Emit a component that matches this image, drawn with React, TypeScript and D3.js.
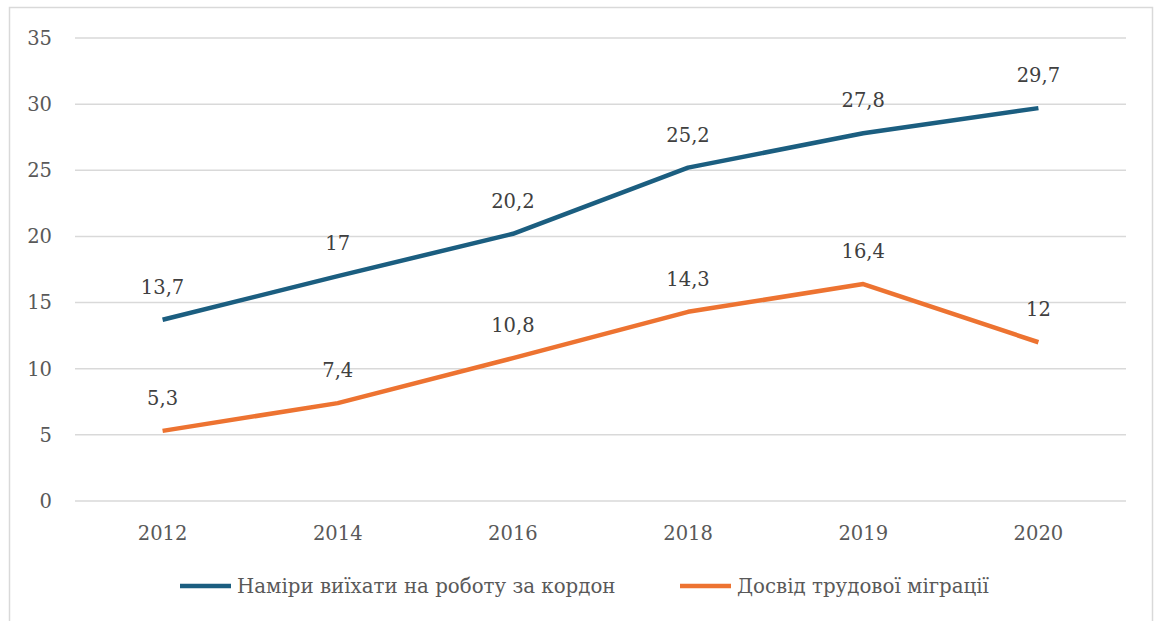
import React, { useEffect, useRef } from "react";
import * as d3 from "d3";

const categories = ["2012", "2014", "2016", "2018", "2019", "2020"];
const seriesIntent = [13.7, 17, 20.2, 25.2, 27.8, 29.7];
const seriesExperience = [5.3, 7.4, 10.8, 14.3, 16.4, 12];
const seriesNames = ["Наміри виїхати на роботу за кордон", "Досвід трудової міграції"];
const seriesColors = ["#1B5E80", "#ED7331"];
const yTicks = [0, 5, 10, 15, 20, 25, 30, 35];

const W = 1155;
const H = 621;
const FONT = "'DejaVu Serif', serif";
const NUM_SIZE = 19.5;

export default function App() {
  const ref = useRef<SVGSVGElement | null>(null);

  useEffect(() => {
    const svg = d3.select(ref.current);
    svg.selectAll("*").remove();

    svg.append("rect").attr("width", W).attr("height", H).attr("fill", "#fff");
    svg
      .append("rect")
      .attr("x", 9.5)
      .attr("y", 7.5)
      .attr("width", 1143)
      .attr("height", 640)
      .attr("fill", "none")
      .attr("stroke", "#d9d9d9")
      .attr("stroke-width", 1.5);

    const x = d3.scaleBand<string>().domain(categories).range([75, 1126]).padding(0);
    const y = d3.scaleLinear().domain([0, 35]).range([501, 38]);
    const cx = (c: string) => (x(c) as number) + x.bandwidth() / 2;

    const grid = svg.append("g");
    yTicks.forEach((t) => {
      grid
        .append("line")
        .attr("x1", 75)
        .attr("x2", 1126)
        .attr("y1", y(t))
        .attr("y2", y(t))
        .attr("stroke", "#d9d9d9")
        .attr("stroke-width", 1.5);
      grid
        .append("text")
        .attr("x", 52)
        .attr("y", y(t))
        .attr("dy", "0.35em")
        .attr("text-anchor", "end")
        .attr("font-family", FONT)
        .attr("font-size", NUM_SIZE)
        .attr("fill", "#595959")
        .text(String(t));
    });

    categories.forEach((c) => {
      svg
        .append("text")
        .attr("x", cx(c))
        .attr("y", 540)
        .attr("text-anchor", "middle")
        .attr("font-family", FONT)
        .attr("font-size", NUM_SIZE)
        .attr("fill", "#595959")
        .text(c);
    });

    const line = d3
      .line<number>()
      .x((_, i) => cx(categories[i]))
      .y((d) => y(d));

    const all = [seriesIntent, seriesExperience];
    all.forEach((s, si) => {
      svg
        .append("path")
        .attr("d", line(s) as string)
        .attr("fill", "none")
        .attr("stroke", seriesColors[si])
        .attr("stroke-width", 4.5)
        .attr("stroke-linejoin", "round");
      s.forEach((v, i) => {
        svg
          .append("text")
          .attr("x", cx(categories[i]))
          .attr("y", y(v) - 26)
          .attr("text-anchor", "middle")
          .attr("font-family", FONT)
          .attr("font-size", NUM_SIZE)
          .attr("fill", "#404040")
          .text(String(v).replace(".", ","));
      });
    });

    const legendX = [180, 680];
    seriesNames.forEach((n, i) => {
      svg
        .append("line")
        .attr("x1", legendX[i])
        .attr("x2", legendX[i] + 51)
        .attr("y1", 586)
        .attr("y2", 586)
        .attr("stroke", seriesColors[i])
        .attr("stroke-width", 4.5);
      svg
        .append("text")
        .attr("x", legendX[i] + 57)
        .attr("y", 592.5)
        .attr("font-family", FONT)
        .attr("font-size", 19.8)
        .attr("fill", "#595959")
        .text(n);
    });
  }, []);

  return (
    <svg
      ref={ref}
      width={W}
      height={H}
      style={{ position: "absolute", left: 0, top: 0, display: "block" }}
    />
  );
}
